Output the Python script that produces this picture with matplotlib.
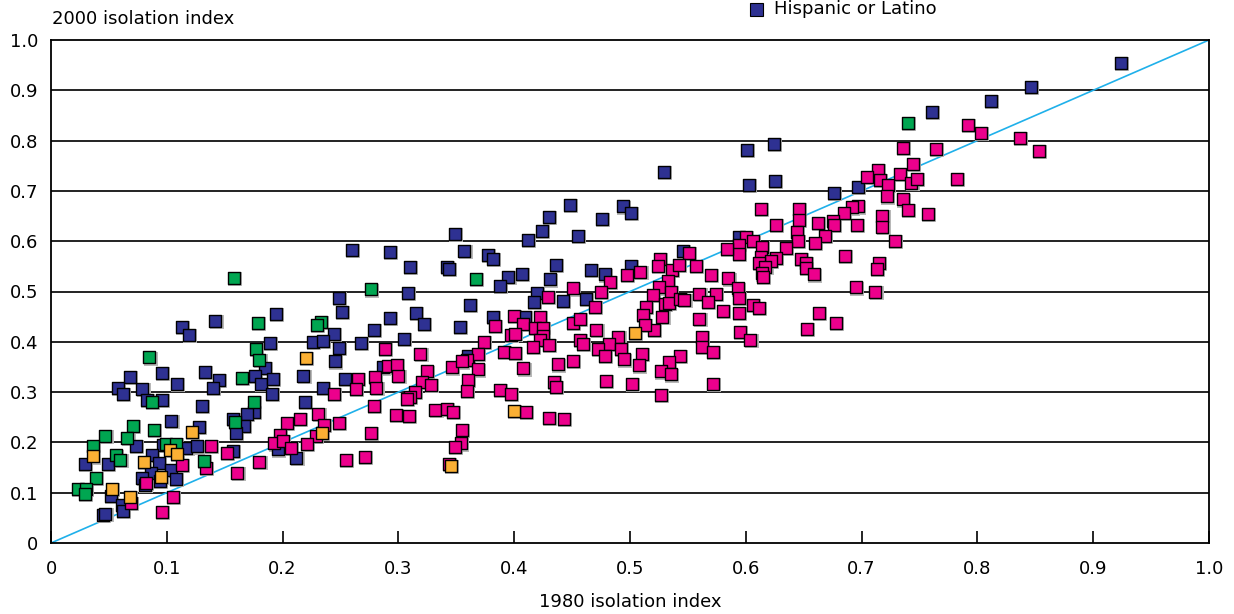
import matplotlib
matplotlib.use("Agg")
from matplotlib import pyplot as plt
import matplotlib.transforms as mtransforms
from matplotlib.patches import Rectangle

# 1980 vs 2000 isolation index, one point per metro area and group
blue_x = [0.924, 0.846, 0.812, 0.761, 0.697, 0.676, 0.601, 0.624, 0.603, 0.625, 0.529, 0.546, 0.594,
          0.448, 0.494, 0.501, 0.430, 0.476, 0.424, 0.412, 0.455, 0.357, 0.377, 0.382, 0.436, 0.466,
          0.478, 0.501, 0.395, 0.407, 0.431, 0.388, 0.420, 0.417, 0.442, 0.462, 0.362, 0.382, 0.409,
          0.353, 0.360,
          0.349, 0.260, 0.293, 0.310, 0.342, 0.344, 0.308, 0.249, 0.194, 0.251, 0.315, 0.293, 0.322,
          0.279, 0.244, 0.189, 0.226, 0.235, 0.268, 0.305, 0.249, 0.245, 0.185, 0.176, 0.181, 0.192,
          0.218, 0.254, 0.235, 0.287, 0.191, 0.219, 0.175, 0.196, 0.212,
          0.113, 0.119, 0.142, 0.068, 0.096, 0.133, 0.109, 0.145, 0.140, 0.058, 0.062, 0.079, 0.083,
          0.096, 0.130, 0.104, 0.128, 0.157, 0.169, 0.167, 0.160, 0.073, 0.097, 0.117, 0.126, 0.157,
          0.029, 0.049, 0.087, 0.093, 0.086, 0.079, 0.104, 0.108, 0.094, 0.081, 0.052, 0.061, 0.062,
          0.045, 0.047]
blue_y = [0.955, 0.906, 0.879, 0.857, 0.707, 0.696, 0.782, 0.794, 0.711, 0.720, 0.738, 0.581, 0.608,
          0.672, 0.669, 0.657, 0.648, 0.644, 0.620, 0.602, 0.611, 0.581, 0.572, 0.565, 0.553, 0.543,
          0.534, 0.550, 0.529, 0.535, 0.524, 0.511, 0.498, 0.479, 0.482, 0.486, 0.474, 0.450, 0.450,
          0.430, 0.372,
          0.614, 0.582, 0.578, 0.548, 0.548, 0.545, 0.498, 0.488, 0.455, 0.460, 0.458, 0.447, 0.435,
          0.424, 0.416, 0.398, 0.400, 0.401, 0.397, 0.405, 0.387, 0.361, 0.348, 0.333, 0.316, 0.326,
          0.332, 0.327, 0.309, 0.349, 0.297, 0.280, 0.261, 0.186, 0.169,
          0.430, 0.414, 0.442, 0.331, 0.338, 0.340, 0.317, 0.324, 0.309, 0.309, 0.297, 0.307, 0.285,
          0.285, 0.273, 0.243, 0.230, 0.246, 0.257, 0.233, 0.218, 0.193, 0.195, 0.189, 0.192, 0.183,
          0.158, 0.158, 0.175, 0.159, 0.140, 0.129, 0.146, 0.127, 0.123, 0.115, 0.093, 0.075, 0.064,
          0.056, 0.058]

pink_x = [0.792, 0.803, 0.837, 0.853,
          0.736, 0.764, 0.744, 0.714, 0.705, 0.716, 0.733, 0.723, 0.743, 0.748, 0.782, 0.722, 0.736,
          0.740, 0.757, 0.718, 0.718, 0.696, 0.697, 0.692, 0.685, 0.675, 0.676, 0.729, 0.686, 0.715,
          0.713, 0.695, 0.712, 0.678,
          0.613, 0.646, 0.646, 0.626, 0.662, 0.644, 0.645, 0.668, 0.660, 0.600, 0.606, 0.594, 0.594,
          0.584, 0.614, 0.635, 0.626, 0.613, 0.622, 0.611, 0.617, 0.614, 0.615, 0.648, 0.652, 0.652,
          0.659, 0.551, 0.526, 0.524, 0.536, 0.542, 0.557, 0.570, 0.585, 0.533, 0.525, 0.535, 0.520,
          0.530, 0.534, 0.543, 0.547, 0.560, 0.574, 0.567, 0.593, 0.594, 0.580, 0.594, 0.606, 0.611,
          0.528, 0.560, 0.521, 0.663, 0.653, 0.595, 0.604, 0.562, 0.562, 0.572, 0.543, 0.534, 0.527,
          0.535, 0.572, 0.527,
          0.509, 0.497, 0.483, 0.451, 0.475, 0.429, 0.470, 0.514, 0.511, 0.400, 0.422, 0.383, 0.408,
          0.451, 0.457, 0.418, 0.425, 0.471, 0.513, 0.397, 0.401, 0.425, 0.422, 0.490, 0.457, 0.459,
          0.374, 0.430, 0.482, 0.416, 0.472, 0.492, 0.369, 0.359, 0.391, 0.401, 0.478, 0.495, 0.510,
          0.438, 0.451, 0.408, 0.508, 0.369, 0.360, 0.434, 0.436, 0.479, 0.502, 0.359, 0.388, 0.397,
          0.410, 0.430, 0.443,
          0.288, 0.319, 0.291, 0.299, 0.300, 0.280, 0.265, 0.263, 0.281, 0.244, 0.325, 0.346, 0.355,
          0.320, 0.328, 0.314, 0.310, 0.307, 0.279, 0.298, 0.309, 0.332, 0.342, 0.347, 0.231, 0.215,
          0.204, 0.249, 0.236, 0.276, 0.355, 0.354, 0.349, 0.198, 0.193, 0.200, 0.229, 0.221, 0.207,
          0.180, 0.255, 0.271, 0.344,
          0.138, 0.152, 0.113, 0.134, 0.161, 0.082, 0.105, 0.069, 0.096]
pink_y = [0.831, 0.815, 0.805, 0.779,
          0.785, 0.783, 0.753, 0.741, 0.728, 0.722, 0.734, 0.711, 0.716, 0.723, 0.724, 0.689, 0.683,
          0.662, 0.654, 0.651, 0.628, 0.633, 0.669, 0.667, 0.656, 0.640, 0.632, 0.600, 0.570, 0.557,
          0.544, 0.508, 0.499, 0.437,
          0.665, 0.665, 0.642, 0.633, 0.636, 0.618, 0.600, 0.610, 0.597, 0.608, 0.600, 0.593, 0.575,
          0.585, 0.589, 0.586, 0.566, 0.569, 0.560, 0.557, 0.549, 0.536, 0.529, 0.565, 0.556, 0.546,
          0.534, 0.577, 0.564, 0.551, 0.543, 0.552, 0.551, 0.533, 0.526, 0.520, 0.508, 0.499, 0.494,
          0.476, 0.477, 0.485, 0.484, 0.495, 0.496, 0.480, 0.506, 0.488, 0.461, 0.457, 0.474, 0.467,
          0.450, 0.445, 0.423, 0.457, 0.425, 0.419, 0.404, 0.410, 0.389, 0.380, 0.372, 0.359, 0.341,
          0.335, 0.317, 0.295,
          0.539, 0.533, 0.519, 0.506, 0.500, 0.490, 0.470, 0.470, 0.454, 0.451, 0.450, 0.432, 0.435,
          0.437, 0.445, 0.427, 0.427, 0.423, 0.434, 0.414, 0.415, 0.411, 0.403, 0.410, 0.404, 0.396,
          0.399, 0.394, 0.396, 0.389, 0.386, 0.386, 0.375, 0.364, 0.380, 0.378, 0.372, 0.365, 0.376,
          0.355, 0.362, 0.347, 0.353, 0.345, 0.325, 0.320, 0.310, 0.323, 0.316, 0.303, 0.304, 0.297,
          0.260, 0.249, 0.246,
          0.386, 0.376, 0.351, 0.354, 0.333, 0.331, 0.326, 0.307, 0.309, 0.297, 0.341, 0.349, 0.361,
          0.321, 0.315, 0.301, 0.290, 0.286, 0.273, 0.254, 0.253, 0.264, 0.266, 0.261, 0.256, 0.247,
          0.239, 0.239, 0.235, 0.219, 0.225, 0.198, 0.191, 0.215, 0.198, 0.203, 0.213, 0.197, 0.189,
          0.162, 0.165, 0.171, 0.158,
          0.193, 0.179, 0.156, 0.150, 0.140, 0.119, 0.091, 0.080, 0.061]

green_x = [0.740, 0.367, 0.276, 0.179, 0.233, 0.230, 0.177, 0.180, 0.175, 0.158, 0.085, 0.165, 0.159,
           0.087, 0.071, 0.089, 0.047, 0.066, 0.036, 0.056, 0.060, 0.099, 0.108, 0.132, 0.039, 0.023,
           0.030, 0.029]
green_y = [0.835, 0.525, 0.504, 0.437, 0.440, 0.433, 0.386, 0.364, 0.280, 0.527, 0.369, 0.329, 0.240,
           0.281, 0.232, 0.225, 0.212, 0.208, 0.192, 0.174, 0.165, 0.197, 0.197, 0.163, 0.129, 0.107,
           0.107, 0.097]

orange_x = [0.504, 0.400, 0.220, 0.234, 0.345, 0.122, 0.036, 0.103, 0.109, 0.080, 0.095, 0.053, 0.068]
orange_y = [0.417, 0.262, 0.368, 0.219, 0.154, 0.221, 0.172, 0.185, 0.177, 0.162, 0.132, 0.107, 0.092]

ticks = [0, 0.1, 0.2, 0.3, 0.4, 0.5, 0.6, 0.7, 0.8, 0.9, 1.0]
tick_labels = ["0", "0.1", "0.2", "0.3", "0.4", "0.5", "0.6", "0.7", "0.8", "0.9", "1.0"]

BLUE = "#2e3192"
PINK = "#ec008c"
GREEN = "#00a651"
ORANGE = "#fbb034"

fig = plt.figure(figsize=(12.34, 6.14), dpi=100)
ax = fig.add_axes([51 / 1234, 71 / 614, 1158 / 1234, 503 / 614])

for y in ticks[1:-1]:
    ax.axhline(y, color="#111111", lw=1.3, zorder=1)

ax.plot([0, 1], [0, 1], color="#1fb0ea", lw=1.2, zorder=2)

shadow = mtransforms.offset_copy(ax.transData, fig=fig, x=0.8, y=-0.8, units="points")
for xs, ys, c in [(blue_x, blue_y, BLUE), (pink_x, pink_y, PINK),
                  (green_x, green_y, GREEN), (orange_x, orange_y, ORANGE)]:
    ax.scatter(xs, ys, s=90, marker="s", color="#b8b8b8", linewidths=0,
               transform=shadow, zorder=3, clip_on=False)
    ax.scatter(xs, ys, s=70, marker="s", facecolor=c, edgecolor="black",
               linewidths=1.0, zorder=4, clip_on=False)

ax.set_xlim(0, 1)
ax.set_ylim(0, 1)
ax.set_xticks(ticks)
ax.set_xticklabels(tick_labels)
ax.set_yticks(ticks)
ax.set_yticklabels(tick_labels)
ax.tick_params(axis="x", direction="in", length=9, width=1.2, labelsize=13, pad=12)
ax.tick_params(axis="y", length=0, labelsize=13, pad=9)
for sp in ax.spines.values():
    sp.set_linewidth(1.3)
    sp.set_color("black")

fig.text(52 / 1234, 1 - 19 / 614, "2000 isolation index", fontsize=13, va="center", ha="left")
ax.set_xlabel("1980 isolation index", fontsize=13, labelpad=11)

# legend entry (the rest of the legend sits above the cropped area)
fig.add_artist(Rectangle((750 / 1234, 1 - 16 / 614), 13 / 1234, 13 / 614,
                         transform=fig.transFigure, facecolor=BLUE, edgecolor="black", lw=0.8))
fig.text(774 / 1234, 1 - 9 / 614, "Hispanic or Latino", fontsize=13, va="center", ha="left")

fig.savefig("out.png", dpi=100)
